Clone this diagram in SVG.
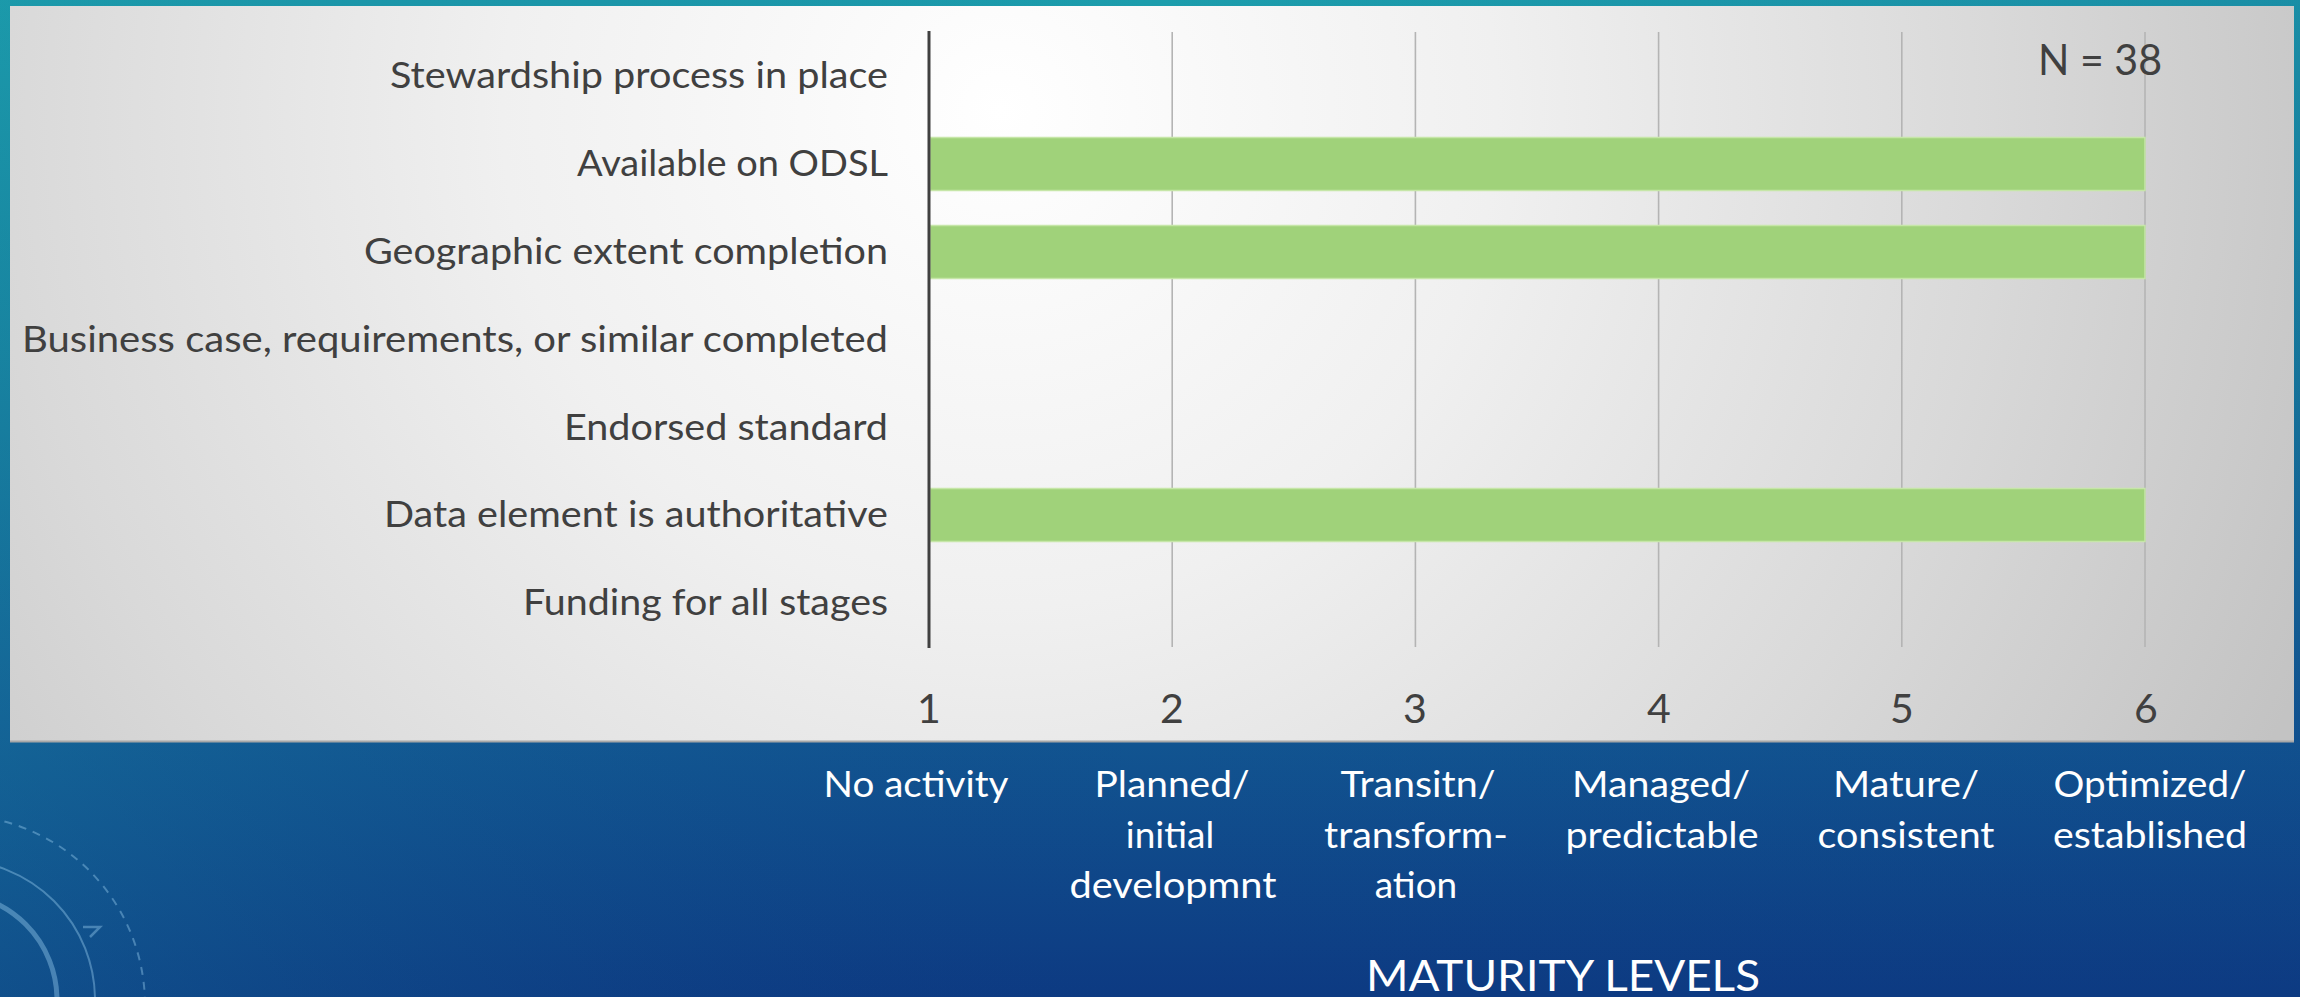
<svg xmlns="http://www.w3.org/2000/svg" width="2300" height="997" viewBox="0 0 2300 997">
<defs>
<linearGradient id="bgV" x1="0" y1="0" x2="0" y2="997" gradientUnits="userSpaceOnUse">
<stop offset="0" stop-color="#1c9dac"/>
<stop offset="0.35" stop-color="#17809f"/>
<stop offset="0.72" stop-color="#125792"/>
<stop offset="1" stop-color="#0d3a82"/>
</linearGradient>
<linearGradient id="bgH" x1="0" y1="0" x2="2300" y2="0" gradientUnits="userSpaceOnUse">
<stop offset="0" stop-color="#1a8fa5" stop-opacity="0.25"/>
<stop offset="0.5" stop-color="#0d3a82" stop-opacity="0"/>
<stop offset="1" stop-color="#0d3a82" stop-opacity="0.15"/>
</linearGradient>
<radialGradient id="panelG" cx="1000" cy="110" r="1420" gradientUnits="userSpaceOnUse">
<stop offset="0" stop-color="#ffffff"/>
<stop offset="0.35" stop-color="#f0f0f0"/>
<stop offset="0.7" stop-color="#d9d9d9"/>
<stop offset="1" stop-color="#c3c3c3"/>
</radialGradient>
<style>
.lbl{font-family:Lato,"Open Sans","Liberation Sans",sans-serif;font-size:37px;fill:#404040}
.num{font-family:Lato,"Open Sans","Liberation Sans",sans-serif;font-size:41px;fill:#404040;text-anchor:middle}
.big{font-family:Lato,"Open Sans","Liberation Sans",sans-serif;font-size:42px;fill:#404040}
.cat{font-family:Lato,"Open Sans","Liberation Sans",sans-serif;font-size:37px;fill:#ffffff;text-anchor:middle}
.ttl{font-family:Lato,"Open Sans","Liberation Sans",sans-serif;font-size:42px;fill:#ffffff;text-anchor:middle}
.bar{fill:#a0d27a;stroke:#c6e6a8;stroke-width:1.5}
.grid{stroke:#b4b4b4;stroke-width:1.6}
.deco{fill:none;stroke:#8fc3e6;stroke-opacity:0.45}
</style>
</defs>

<g id="background">
<rect x="0" y="0" width="2300" height="997" fill="url(#bgV)"/>
<rect x="0" y="0" width="2300" height="997" fill="url(#bgH)"/>
<circle class="deco" cx="-50" cy="1000" r="107" stroke-width="5"/>
<circle class="deco" cx="-45" cy="1000" r="140" stroke-width="2"/>
<circle class="deco" cx="-45" cy="1005" r="190" stroke-width="2" stroke-dasharray="8 7"/>
<path class="deco" d="M83 927 L100 927 L90 937" stroke-width="2.5"/>
</g>

<g id="panel">
<rect x="10" y="6" width="2284" height="736" fill="url(#panelG)"/>
<line x1="10" y1="741.5" x2="2294" y2="741.5" stroke="#a8a8a8" stroke-width="2"/>
</g>

<g id="gridlines">
<line class="grid" x1="1172.2" y1="32" x2="1172.2" y2="647"/>
<line class="grid" x1="1415.4" y1="32" x2="1415.4" y2="647"/>
<line class="grid" x1="1658.6" y1="32" x2="1658.6" y2="647"/>
<line class="grid" x1="1901.8" y1="32" x2="1901.8" y2="647"/>
<line class="grid" x1="2145" y1="32" x2="2145" y2="647"/>
</g>

<g id="row-stewardship">
<text class="lbl" x="888" y="88" text-anchor="end" textLength="498" lengthAdjust="spacingAndGlyphs">Stewardship process in place</text>
</g>
<g id="row-odsl">
<rect class="bar" x="930" y="137.5" width="1215" height="53"/>
<text class="lbl" x="888" y="176" text-anchor="end" textLength="311" lengthAdjust="spacingAndGlyphs">Available on ODSL</text>
</g>
<g id="row-geographic">
<rect class="bar" x="930" y="225.5" width="1215" height="53"/>
<text class="lbl" x="888" y="264" text-anchor="end" textLength="524" lengthAdjust="spacingAndGlyphs">Geographic extent completion</text>
</g>
<g id="row-business">
<text class="lbl" x="888" y="352" text-anchor="end" textLength="866" lengthAdjust="spacingAndGlyphs">Business case, requirements, or similar completed</text>
</g>
<g id="row-endorsed">
<text class="lbl" x="888" y="440" text-anchor="end" textLength="324" lengthAdjust="spacingAndGlyphs">Endorsed standard</text>
</g>
<g id="row-authoritative">
<rect class="bar" x="930" y="488.5" width="1215" height="53"/>
<text class="lbl" x="888" y="527" text-anchor="end" textLength="504" lengthAdjust="spacingAndGlyphs">Data element is authoritative</text>
</g>
<g id="row-funding">
<text class="lbl" x="888" y="615" text-anchor="end" textLength="365" lengthAdjust="spacingAndGlyphs">Funding for all stages</text>
</g>

<g id="axis">
<line x1="929" y1="31" x2="929" y2="648" stroke="#404040" stroke-width="3"/>
</g>

<g id="n-label">
<text class="big" x="2038" y="75" textLength="124" lengthAdjust="spacingAndGlyphs">N = 38</text>
</g>

<g id="tick-numbers">
<text class="num" x="929" y="723">1</text>
<text class="num" x="1172" y="723">2</text>
<text class="num" x="1415" y="723">3</text>
<text class="num" x="1659" y="723">4</text>
<text class="num" x="1902" y="723">5</text>
<text class="num" x="2146" y="723">6</text>
</g>

<g id="level-1"><text class="cat" x="916" y="797" textLength="185" lengthAdjust="spacingAndGlyphs">No activity</text></g>
<g id="level-2">
<text class="cat" x="1172" y="797" textLength="155" lengthAdjust="spacingAndGlyphs">Planned/</text>
<text class="cat" x="1170" y="848">initial</text>
<text class="cat" x="1173" y="898" textLength="207" lengthAdjust="spacingAndGlyphs">developmnt</text>
</g>
<g id="level-3">
<text class="cat" x="1418" y="797" textLength="155" lengthAdjust="spacingAndGlyphs">Transitn/</text>
<text class="cat" x="1416" y="848" textLength="184" lengthAdjust="spacingAndGlyphs">transform-</text>
<text class="cat" x="1416" y="898">ation</text>
</g>
<g id="level-4">
<text class="cat" x="1661" y="797" textLength="178" lengthAdjust="spacingAndGlyphs">Managed/</text>
<text class="cat" x="1662" y="848" textLength="193" lengthAdjust="spacingAndGlyphs">predictable</text>
</g>
<g id="level-5">
<text class="cat" x="1906" y="797" textLength="146" lengthAdjust="spacingAndGlyphs">Mature/</text>
<text class="cat" x="1906" y="848" textLength="177" lengthAdjust="spacingAndGlyphs">consistent</text>
</g>
<g id="level-6">
<text class="cat" x="2150" y="797" textLength="193" lengthAdjust="spacingAndGlyphs">Optimized/</text>
<text class="cat" x="2150" y="848" textLength="194" lengthAdjust="spacingAndGlyphs">established</text>
</g>

<g id="axis-title">
<text class="ttl" x="1563" y="991" textLength="394" lengthAdjust="spacingAndGlyphs">MATURITY LEVELS</text>
</g>
</svg>
